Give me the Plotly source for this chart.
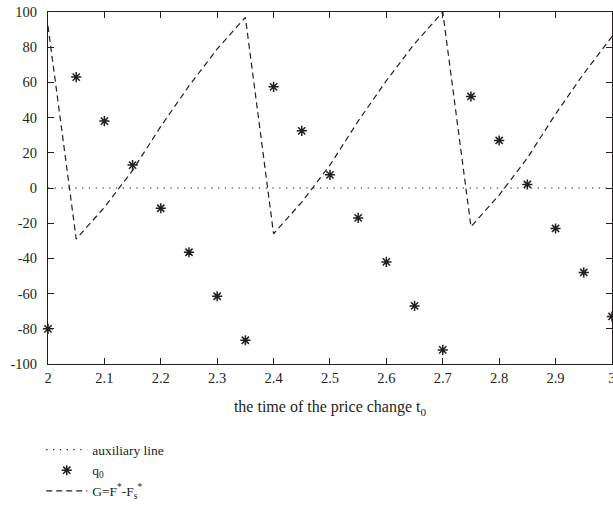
import plotly.graph_objects as go

t_q = [2.0, 2.05, 2.1, 2.15, 2.2, 2.25, 2.3, 2.35, 2.4, 2.45, 2.5,
       2.55, 2.6, 2.65, 2.7, 2.75, 2.8, 2.85, 2.9, 2.95, 3.0]
q0 = [-80, 63, 38, 13, -11.5, -36.5, -61.5, -86.5, 57.5, 32.5, 7.5,
      -17, -42, -67, -92, 52, 27, 2, -23, -48, -73]

t_g = [2.0, 2.05, 2.1, 2.15, 2.2, 2.25, 2.3, 2.35, 2.4, 2.45, 2.5,
       2.55, 2.6, 2.65, 2.7, 2.75, 2.8, 2.85, 2.9, 2.95, 3.0]
G = [92, -29, -11, 10, 35, 58, 79, 97, -26, -8, 13,
     38, 61, 82, 100, -22, -4, 17, 42, 65, 86]

aux_x = [2.0, 3.0]
aux_y = [0, 0]

x_ticks = [2, 2.1, 2.2, 2.3, 2.4, 2.5, 2.6, 2.7, 2.8, 2.9, 3]
x_tick_text = ["2", "2.1", "2.2", "2.3", "2.4", "2.5", "2.6", "2.7", "2.8", "2.9", "3"]
y_ticks = [-100, -80, -60, -40, -20, 0, 20, 40, 60, 80, 100]
y_tick_text = ["-100", "-80", "-60", "-40", "-20", "0", "20", "40", "60", "80", "100"]

FONT = "Liberation Serif, Times New Roman, serif"
INK = "#231f20"

fig = go.Figure()
fig.add_trace(go.Scatter(
    x=aux_x, y=aux_y, mode="lines", name="auxiliary line",
    line=dict(color=INK, width=1.2, dash="1.3px,5.5px")))
fig.add_trace(go.Scatter(
    x=t_q, y=q0, mode="markers", name="q<sub>0</sub>",
    marker=dict(symbol="asterisk-open", size=8.5, color=INK,
                line=dict(color=INK, width=1.5)),
    cliponaxis=False))
fig.add_trace(go.Scatter(
    x=t_g, y=G, mode="lines", name="G=F<sup>*</sup>-F<sub>s</sub><sup>*</sup>",
    line=dict(color=INK, width=1.2, dash="6px,4px")))

axis_common = dict(
    showgrid=False, zeroline=False, showline=True, linecolor=INK, linewidth=1.2,
    mirror="ticks", ticks="inside", ticklen=6, tickcolor=INK, tickwidth=1.2,
    automargin=False, ticklabeloverflow="allow",
    tickfont=dict(family=FONT, size=14.5, color=INK))

fig.update_layout(
    width=613, height=510,
    margin=dict(l=48, r=1, t=12, b=146, autoexpand=False),
    paper_bgcolor="white", plot_bgcolor="white",
    font=dict(family=FONT, size=14, color=INK),
    xaxis=dict(range=[2, 3.0001], tickvals=x_ticks, ticktext=x_tick_text,
               title=dict(text="the time of the price change t<sub>0</sub>",
                          font=dict(family=FONT, size=16, color=INK), standoff=16),
               **axis_common),
    yaxis=dict(range=[-100, 100], tickvals=y_ticks, ticktext=y_tick_text,
               ticklabelstandoff=7, **axis_common),
    showlegend=True,
    legend=dict(x=-0.012, y=-0.2, xanchor="left", yanchor="top",
                bgcolor="rgba(0,0,0,0)", font=dict(family=FONT, size=13.5, color=INK),
                tracegroupgap=0, itemwidth=41),
)

fig.write_html("out.html", config={"displayModeBar": False},
               post_script="document.body.style.margin='0';document.body.style.overflow='hidden';")
